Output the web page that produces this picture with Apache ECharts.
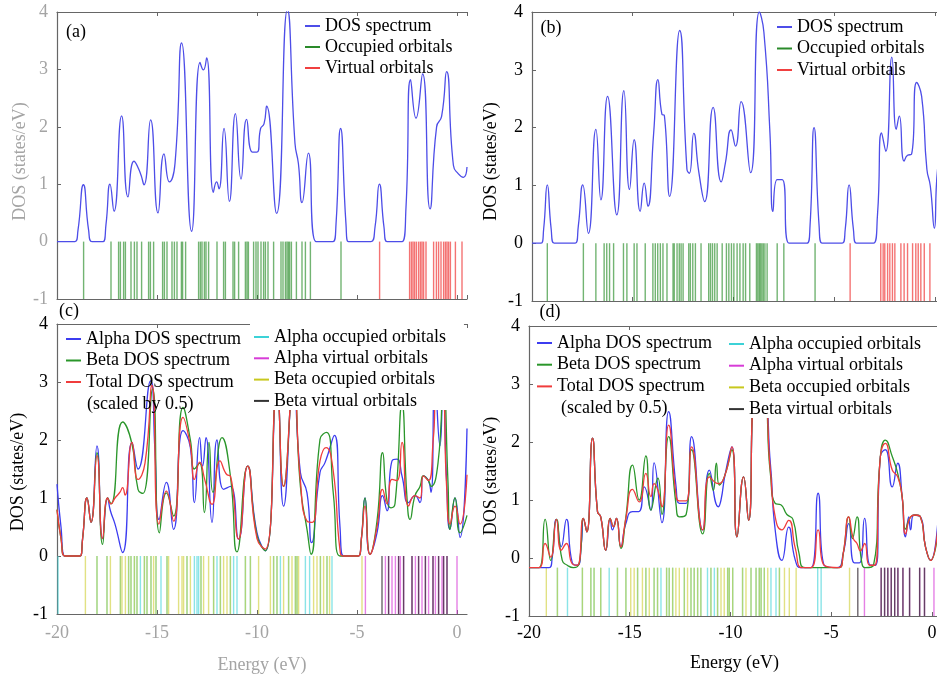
<!DOCTYPE html>
<html>
<head>
<meta charset="utf-8">
<script src="https://cdn.jsdelivr.net/npm/echarts@6/dist/echarts.min.js"></script>
<style>
html, body { margin: 0; padding: 0; background: #fff; }
#chart { width: 937px; height: 680px; }
</style>
</head>
<body>
<div id="chart"></div>
<script>
// energy ticks shared by all panels
var xTicks = [-20, -15, -10, -5, 0];
var yTicks = [-1, 0, 1, 2, 3, 4];

// ---- panel (a): DOS [E, DOS] and orbital energies
var aDos = [[-20,0],[-19.1,0],[-18.95,0.2],[-18.68,0.99],[-18.42,0.2],[-18.25,0],[-17.7,0],[-17.55,0.3],[-17.35,1.0],
  [-17.15,0.53],[-16.77,2.19],[-16.45,0.78],[-16.15,1.4],[-15.85,1.21],[-15.65,0.99],[-15.32,2.12],[-14.95,0.5],
  [-14.65,1.53],[-14.38,1.04],[-14.1,1.36],[-13.77,3.46],[-13.27,0.18],[-12.85,3.12],[-12.68,2.99],[-12.52,3.2],
  [-12.18,0.86],[-12.02,1.04],[-11.9,0.92],[-11.65,1.97],[-11.38,0.7],[-11.08,2.23],[-10.8,1.09],[-10.52,2.13],
  [-10.23,1.56],[-10.0,1.56],[-9.82,1.97],[-9.65,2.05],[-9.52,2.36],[-9.02,0.49],[-8.48,4.04],[-8.1,1.71],
  [-7.93,1.36],[-7.75,0.68],[-7.43,1.54],[-7.05,0],[-6.2,0],[-6.05,0.3],[-5.82,1.97],[-5.55,0.3],[-5.43,0],
  [-4.3,0],[-4.1,0.25],[-3.88,1.0],[-3.65,0.25],[-3.5,0],[-2.75,0],[-2.55,0.6],[-2.32,2.82],[-2.05,2.15],
  [-1.72,2.92],[-1.35,0.57],[-1.02,2.0],[-0.77,2.18],[-0.52,2.96],[-0.18,1.33],[0.07,1.18],[0.32,1.12],[0.5,1.3]];
var aOcc = [-18.67,-17.30,-16.92,-16.83,-16.67,-16.58,-16.30,-16.13,-16.00,-15.77,-15.42,-15.33,-15.17,-14.72,
  -14.63,-14.50,-14.25,-14.13,-14.00,-13.78,-13.72,-13.57,-12.92,-12.83,-12.75,-12.63,-12.55,-12.42,-12.00,-11.67,
  -11.58,-11.20,-11.12,-10.92,-10.58,-10.50,-10.43,-10.17,-10.05,-9.95,-9.80,-9.67,-9.58,-9.45,-9.17,-8.80,-8.70,
  -8.58,-8.50,-8.43,-8.37,-8.28,-8.03,-7.75,-7.58,-7.33,-5.80];
var aVirt = [-3.87,-2.37,-2.28,-2.20,-2.12,-2.03,-1.92,-1.83,-1.75,-1.67,-1.55,-1.17,-1.03,-0.92,-0.80,-0.67,
  -0.58,-0.50,-0.42,-0.33,-0.08,0.25];

// ---- panel (b)
var bDos = [[-20,0],[-19.55,0],[-19.42,0.25],[-19.24,1.01],[-19.05,0.25],[-18.9,0],[-17.85,0],[-17.7,0.3],
  [-17.48,1.01],[-17.2,0.17],[-16.83,1.97],[-16.58,0.75],[-16.25,2.54],[-15.79,0.49],[-15.44,2.64],[-15.16,0.93],
  [-14.93,1.79],[-14.63,0.55],[-14.43,1.04],[-14.25,0.64],[-13.96,1.91],[-13.75,2.83],[-13.55,2.23],[-13.43,2.21],
  [-13.17,0.81],[-12.67,3.68],[-12.31,1.28],[-12.19,1.21],[-11.97,1.9],[-11.72,1.23],[-11.43,0.72],[-11.01,2.35],
  [-10.61,1.06],[-10.4,1.39],[-10.12,1.96],[-9.9,1.68],[-9.62,2.45],[-9.15,1.22],[-8.72,4.0],[-8.49,3.65],
  [-8.19,1.91],[-8.04,0.55],[-7.83,1.1],[-7.58,1.1],[-7.25,0],[-6.35,0],[-6.2,0.3],[-6.0,2.0],[-5.75,0.3],
  [-5.6,0],[-4.6,0],[-4.45,0.25],[-4.26,1.01],[-4.05,0.25],[-3.9,0],[-3.05,0],[-2.85,0.5],[-2.65,1.91],
  [-2.44,1.59],[-2.14,3.22],[-1.92,1.97],[-1.77,2.2],[-1.53,1.42],[-1.36,1.52],[-1.16,1.54],[-0.91,2.78],
  [-0.66,2.54],[-0.4,1.28],[-0.23,0.99],[-0.03,0.26],[0.13,1.28],[0.4,1.5]];
var bOcc = [-19.24,-17.45,-16.83,-16.42,-16.29,-16.15,-15.95,-15.46,-15.29,-14.93,-14.79,-14.38,-14.00,-13.88,
  -13.76,-13.63,-13.50,-13.30,-13.00,-12.94,-12.80,-12.69,-12.60,-12.50,-12.22,-12.14,-12.02,-11.89,-11.61,-11.23,
  -11.14,-11.04,-10.93,-10.81,-10.56,-10.35,-10.23,-10.10,-9.98,-9.82,-9.68,-9.52,-9.40,-9.19,-8.86,-8.79,-8.72,
  -8.66,-8.59,-8.52,-8.44,-8.33,-7.83,-7.50,-5.95];
var bVirt = [-4.21,-2.69,-2.57,-2.49,-2.35,-2.24,-2.11,-1.99,-1.69,-1.53,-1.36,-1.11,-0.95,-0.83,-0.70,-0.53,-0.25];

// ---- panel (c): alpha, beta and total (x0.5) DOS
var cAlpha = [[-20,1.24],[-19.8,0.5],[-19.6,0],[-18.85,0],[-18.72,0.3],[-18.5,1.0],[-18.3,0.58],[-18.0,1.9],
  [-17.72,0.3],[-17.47,1.0],[-17.33,0.78],[-17.1,0.55],[-16.72,0.06],[-16.25,1.96],[-15.95,1.5],[-15.32,3.02],
  [-15.1,1.8],[-14.9,0.63],[-14.53,1.27],[-14.17,0.46],[-13.7,2.16],[-13.33,1.87],[-13.13,0.92],[-12.87,2.04],
  [-12.72,1.55],[-12.55,2.04],[-12.25,0.58],[-12.0,2.0],[-11.67,1.15],[-11.33,1.2],[-10.92,0.29],[-10.47,1.55],
  [-10.0,0.4],[-9.58,0.09],[-9.0,2.9],[-8.67,0.86],[-8.17,3.0],[-7.83,1.44],[-7.5,1.09],[-7.27,0.23],[-6.85,1.44],
  [-6.6,1.61],[-6.13,2.08],[-5.85,0.5],[-5.68,0],[-4.93,0],[-4.78,0.3],[-4.6,1.0],[-4.35,0.03],[-4.0,0.4],
  [-3.72,1.04],[-3.5,0.78],[-3.25,1.64],[-3.0,1.67],[-2.75,1.38],[-2.42,0.92],[-2.1,1.04],[-1.85,0.92],
  [-1.68,1.38],[-1.43,1.3],[-1.3,1.1],[-1.1,3.0],[-0.85,1.9],[-0.7,3.0],[-0.52,1.3],[-0.35,0.46],[-0.1,1.0],
  [0.15,0.32],[0.5,2.2]];
var cBeta = [[-20,0.8],[-19.8,0.3],[-19.6,0],[-18.85,0],[-18.72,0.3],[-18.5,1.0],[-18.3,0.58],[-18.0,1.78],
  [-17.72,0.2],[-17.47,1.0],[-17.3,0.9],[-16.72,2.31],[-16.25,1.93],[-15.95,1.15],[-15.7,1.08],[-15.22,2.88],
  [-14.88,0.4],[-14.53,1.09],[-14.17,0.69],[-13.7,2.56],[-13.33,2.0],[-13.13,1.5],[-12.87,1.6],[-12.63,0.75],
  [-12.4,1.96],[-12.2,1.1],[-11.75,2.04],[-11.33,1.38],[-11.0,0.07],[-10.47,1.55],[-10.0,0.35],[-9.58,0.09],
  [-9.0,2.9],[-8.67,1.2],[-8.17,3.0],[-7.83,1.2],[-7.5,0.46],[-7.3,0.03],[-6.85,2.01],[-6.52,2.13],[-6.18,1.06],
  [-5.85,0],[-4.93,0],[-4.78,0.3],[-4.6,1.0],[-4.35,0.03],[-4.0,0.6],[-3.72,1.78],[-3.5,0.95],[-3.3,0.83],
  [-3.1,0.9],[-2.75,2.6],[-2.5,1.0],[-2.35,0.63],[-2.1,1.04],[-1.85,1.2],[-1.68,1.38],[-1.43,1.3],[-1.3,1.2],
  [-0.95,1.6],[-0.68,3.0],[-0.45,1.27],[-0.35,0.46],[-0.1,1.0],[0.15,0.4],[0.5,0.7]];
var cTotal = [[-20,0.8],[-19.8,0.3],[-19.6,0],[-18.85,0],[-18.72,0.3],[-18.5,1.0],[-18.3,0.58],[-18.0,1.73],
  [-17.72,0.3],[-17.47,1.0],[-17.3,0.9],[-17.1,1.0],[-16.85,1.1],[-16.72,1.18],[-16.6,1.05],[-16.25,1.96],
  [-15.95,1.32],[-15.6,1.6],[-15.25,2.94],[-14.9,0.55],[-14.53,1.12],[-14.17,0.6],[-13.7,2.39],[-13.33,1.9],
  [-13.13,1.32],[-12.87,1.62],[-12.6,1.3],[-12.25,0.89],[-11.85,1.64],[-11.5,1.4],[-11.33,1.38],[-10.92,0.29],
  [-10.47,1.55],[-10.0,0.3],[-9.58,0.12],[-9.0,2.9],[-8.67,1.2],[-8.17,3.0],[-7.83,1.3],[-7.5,0.6],[-7.25,0.58],
  [-6.85,1.64],[-6.55,1.87],[-6.2,1.5],[-5.85,0.1],[-5.68,0],[-4.93,0],[-4.78,0.3],[-4.6,0.86],[-4.35,0.03],
  [-4.0,0.5],[-3.72,1.15],[-3.5,0.9],[-3.25,1.32],[-3.0,1.3],[-2.75,1.96],[-2.42,0.86],[-2.1,1.04],[-1.85,1.0],
  [-1.68,1.38],[-1.43,1.3],[-1.18,2.04],[-1.0,2.8],[-0.75,2.8],[-0.52,1.2],[-0.35,0.55],[-0.1,0.86],[0.15,0.55],
  [0.5,1.4]];
var cAlphaOcc = [-19.95,-18.0,-17.5,-16.83,-16.42,-16.3,-16.13,-16.0,-15.83,-15.63,-15.5,-15.3,-15.05,-14.8,-14.5,
  -13.5,-13.13,-13.0,-12.92,-12.8,-12.17,-12.0,-11.83,-11.33,-11.17,-11.0,-10.58,-10.33,-9.17,-9.0,-8.83,-8.42,
  -8.08,-8.0,-7.58,-7.37,-6.83,-6.5,-6.25];
var cBetaOcc = [-18.58,-18.0,-17.5,-17.33,-16.83,-16.75,-16.58,-16.42,-16.3,-16.13,-16.0,-15.63,-15.5,-15.3,-15.17,
  -15.05,-14.5,-14.42,-13.92,-13.75,-13.67,-13.5,-13.33,-12.8,-12.67,-12.42,-12.17,-11.83,-11.67,-11.5,-11.33,
  -10.58,-10.33,-9.92,-9.33,-9.17,-9.0,-8.67,-8.42,-8.25,-8.08,-8.0,-7.92,-7.17,-7.0,-6.83,-6.67,-6.5,-6.37,-4.75];
var cAlphaVirt = [-4.58,-3.58,-3.42,-3.25,-3.08,-2.92,-2.83,-2.67,-2.25,-2.08,-1.92,-1.75,-1.58,-1.42,-1.2,-1.08,
  -0.92,-0.75,-0.67,-0.5,0.0];
var cBetaVirt = [-3.75,-3.42,-2.92,-2.67,-2.25,-1.92,-1.58,-1.2,-0.92,-0.67,-0.5];

// ---- panel (d): values on the plot's own DOS scale (-1 .. 5)
var dAlpha = [[-20,0],[-19.0,0],[-18.85,0.2],[-18.64,1.0],[-18.4,0.43],[-18.14,1.0],[-17.85,0.1],[-17.6,0.05],
  [-17.4,0.5],[-17.3,1.02],[-17.13,0.74],[-16.85,2.68],[-16.6,1.16],[-16.44,1.05],[-16.19,0.36],[-15.97,1.02],
  [-15.86,0.78],[-15.66,1.02],[-15.44,0.43],[-15.2,0.9],[-14.86,1.16],[-14.55,1.16],[-14.28,1.67],[-13.95,1.19],
  [-13.79,2.17],[-13.4,0.93],[-13.07,3.23],[-12.7,1.67],[-12.54,1.33],[-12.2,1.33],[-11.93,2.71],[-11.38,0.78],
  [-11.05,2.02],[-10.6,1.26],[-10.47,1.4],[-10.27,1.92],[-9.93,2.5],[-9.68,0.64],[-9.35,1.88],[-9.1,0.98],
  [-8.75,3.6],[-8.4,3.6],[-8.02,2.16],[-7.78,0.78],[-7.45,0.15],[-7.11,0.84],[-6.78,0.15],[-6.5,0],[-6.0,0],
  [-5.65,1.54],[-5.35,0.05],[-4.7,0],[-4.4,0.3],[-4.13,0.91],[-3.85,0.1],[-3.6,0.1],[-3.34,1.02],[-3.05,0.05],
  [-2.8,0.05],[-2.56,2.3],[-2.31,2.44],[-1.97,1.67],[-1.7,2.16],[-1.48,1.47],[-1.31,0.64],[-1.15,1.05],
  [-1.06,0.78],[-0.9,1.09],[-0.57,1.05],[-0.32,0.43],[-0.07,0.15],[0.4,1.7]];
var dBeta = [[-20,0],[-19.5,0],[-19.2,1.0],[-18.92,0.15],[-18.64,1.0],[-18.35,0.15],[-18.1,0.05],[-17.8,0],
  [-17.5,0.1],[-17.3,1.02],[-17.13,0.74],[-16.85,2.68],[-16.6,1.16],[-16.44,1.05],[-16.19,0.36],[-15.97,1.02],
  [-15.8,0.85],[-15.66,1.02],[-15.44,0.4],[-15.2,1.02],[-14.86,2.12],[-14.53,1.4],[-14.2,2.31],[-13.95,1.19],
  [-13.6,1.85],[-13.4,1.1],[-13.07,2.71],[-12.7,1.3],[-12.54,1.05],[-12.2,1.1],[-11.93,2.44],[-11.38,0.7],
  [-11.05,1.95],[-10.85,1.6],[-10.7,2.16],[-10.55,1.71],[-10.27,1.92],[-9.93,2.44],[-9.68,0.64],[-9.35,1.88],
  [-9.1,0.98],[-8.75,3.6],[-8.4,3.6],[-8.02,1.95],[-7.78,1.33],[-7.5,1.3],[-7.2,1.1],[-6.9,1.0],[-6.6,0.3],
  [-6.3,0],[-4.6,0],[-4.4,0.3],[-4.13,1.05],[-3.95,0.6],[-3.72,1.05],[-3.5,0.15],[-3.3,0],[-2.9,0.05],
  [-2.56,2.3],[-2.31,2.64],[-1.97,2.3],[-1.7,1.95],[-1.48,1.47],[-1.31,0.8],[-1.06,1.05],[-0.82,1.09],
  [-0.57,1.05],[-0.32,0.43],[-0.07,0.15],[0.4,1.2]];
var dTotal = [[-20,0],[-19.5,0],[-19.2,0.5],[-18.92,0.22],[-18.64,1.0],[-18.4,0.36],[-18.14,0.5],[-17.85,0.08],
  [-17.6,0.05],[-17.3,1.02],[-17.13,0.74],[-16.85,2.68],[-16.6,1.16],[-16.44,1.05],[-16.19,0.36],[-15.97,1.02],
  [-15.8,0.85],[-15.66,1.02],[-15.44,0.43],[-15.2,1.0],[-14.86,1.62],[-14.53,1.36],[-14.2,1.95],[-13.95,1.47],
  [-13.79,1.74],[-13.6,1.6],[-13.4,1.26],[-13.07,2.95],[-12.7,1.5],[-12.54,1.38],[-12.2,1.38],[-11.93,2.5],
  [-11.38,0.78],[-11.05,1.88],[-10.6,1.74],[-10.27,1.92],[-9.93,2.5],[-9.68,0.64],[-9.35,1.88],[-9.1,0.98],
  [-8.75,3.6],[-8.4,3.6],[-8.02,2.02],[-7.78,1.05],[-7.45,0.78],[-7.11,0.98],[-6.78,0.4],[-6.45,0],[-6.0,0],
  [-5.65,0.78],[-5.35,0.05],[-4.6,0],[-4.4,0.3],[-4.13,1.05],[-3.9,0.6],[-3.72,0.5],[-3.55,0.35],[-3.34,0.5],
  [-3.1,0.05],[-2.85,0.05],[-2.56,2.3],[-2.31,2.57],[-1.97,2.02],[-1.7,1.88],[-1.48,1.47],[-1.31,0.7],
  [-1.06,1.05],[-0.82,1.09],[-0.57,1.05],[-0.32,0.43],[-0.07,0.15],[0.4,1.4]];
var dAlphaOcc = [-18.59,-18.09,-17.35,-16.93,-16.77,-16.44,-16.02,-15.61,-15.19,-14.61,-14.20,-13.79,-13.62,-13.45,
  -13.17,-13.04,-12.87,-12.29,-11.96,-11.80,-11.63,-11.47,-11.14,-10.97,-10.80,-10.64,-10.14,-10.06,-9.89,-9.40,
  -8.98,-8.73,-8.57,-8.48,-8.32,-7.99,-7.74,-7.57,-5.67,-5.50];
var dBetaOcc = [-19.14,-18.59,-17.35,-16.93,-16.77,-16.44,-15.61,-15.19,-14.95,-14.78,-14.61,-14.37,-14.20,-14.03,
  -13.79,-13.62,-13.17,-13.04,-12.87,-12.71,-12.54,-12.29,-12.13,-11.96,-11.80,-11.63,-11.47,-10.97,-10.64,-10.47,
  -10.31,-10.14,-10.06,-9.89,-9.40,-9.23,-8.98,-8.73,-8.57,-8.48,-8.32,-8.15,-7.57,-7.32,-7.08,-6.74,-4.09];
var dAlphaVirt = [-3.35,-2.52,-2.35,-2.19,-2.02,-1.85,-1.69,-1.44,-1.11,-0.61,-0.37,0.1];
var dBetaVirt = [-3.68,-2.52,-2.35,-2.19,-2.02,-1.85,-1.69,-1.44,-1.11,-0.61,-0.37];

var FONT = 'Liberation Serif';
var GREY = '#a4a4a4';
var AXIS = '#666';

var C = {
  dos: '#4d4de8', occ: 'rgba(20,130,20,0.6)', virt: 'rgba(238,40,40,0.65)',
  alpha: '#3c3cf0', beta: '#2a962a', total: '#f03c3c',
  aOcc: 'rgba(60,210,215,0.6)', aVirt: 'rgba(215,60,215,0.65)',
  bOcc: 'rgba(200,200,30,0.55)', bVirt: 'rgba(45,35,45,0.7)'
};

function fmtX(v) { return (v % 5 === 0) ? String(v) : ''; }

function xAx(grid, max, pos, labelColor, name) {
  return {
    type: 'value', gridIndex: grid, position: pos, min: -20, max: max, interval: 5,
    axisLine: { show: true, onZero: false, lineStyle: { color: AXIS, width: 1.2 } },
    axisTick: { show: true, inside: true, length: 4, lineStyle: { color: AXIS } },
    splitLine: { show: false },
    axisLabel: { show: !!labelColor, color: labelColor, fontFamily: FONT, fontSize: 18,
      margin: 9, formatter: fmtX, showMaxLabel: false },
    name: name || '', nameLocation: 'middle', nameGap: 40,
    nameTextStyle: { color: labelColor, fontFamily: FONT, fontSize: 18 }
  };
}

// shift = how far the rotated axis name sits below the axis middle
function yAx(grid, color, gap, shift) {
  return {
    type: 'value', gridIndex: grid, min: -1, max: 4, interval: 1,
    axisLine: { show: true, onZero: false, lineStyle: { color: AXIS, width: 1.2 } },
    axisTick: { show: true, inside: true, length: 4, lineStyle: { color: AXIS } },
    splitLine: { show: false },
    axisLabel: { color: color, fontFamily: FONT, fontSize: 18, margin: 9 },
    name: 'DOS (states/eV)', nameLocation: 'middle', nameGap: gap, nameRotate: 90,
    nameTextStyle: { color: color, fontFamily: FONT, fontSize: 18, padding: [0, shift * 2, 0, 0] }
  };
}

function curve(name, data, color, xi, yi) {
  return {
    name: name, type: 'line', xAxisIndex: xi, yAxisIndex: yi, data: data,
    smooth: 0.55, symbol: 'none', showSymbol: false, silent: true, z: 3,
    lineStyle: { color: color, width: 1.3 }, itemStyle: { color: color }
  };
}

function sticks(name, energies, color, xi, yi) {
  return {
    name: name, type: 'custom', xAxisIndex: xi, yAxisIndex: yi, silent: true, z: 1,
    data: energies.map(function (e) { return [e, 0]; }),
    encode: { x: 0, y: 1 },
    itemStyle: { color: color },
    renderItem: function (params, api) {
      var p0 = api.coord([api.value(0), 0]);
      var p1 = api.coord([api.value(0), -1]);
      return { type: 'line', shape: { x1: p0[0], y1: p0[1], x2: p1[0], y2: p1[1] },
        style: { stroke: color, lineWidth: 1.4 } };
    }
  };
}

function legend(names, colors, left, top, gap, extra) {
  var o = {
    orient: 'vertical', left: left, top: top, itemGap: gap, padding: 0,
    icon: 'rect', itemWidth: 15, itemHeight: 2, selectedMode: false,
    textStyle: { color: '#000', fontFamily: FONT, fontSize: 18, lineHeight: 18 },
    data: names.map(function (n, i) { return { name: n, itemStyle: { color: colors[i] } }; })
  };
  for (var k in extra) o[k] = extra[k];
  return o;
}

function label(text, x, y, align) {
  return { type: 'text', x: x, y: y, z: 10,
    style: { text: text, fill: '#000', font: '18px "' + FONT + '"', align: align || 'center', verticalAlign: 'middle' } };
}

var chart = echarts.init(document.getElementById('chart'));

var xAxes = [
  xAx(0, 0.5, 'bottom'), xAx(0, 0.5, 'top'),
  xAx(1, 0.4, 'bottom'), xAx(1, 0.4, 'top'),
  xAx(2, 0.5, 'bottom', GREY, 'Energy (eV)'), xAx(2, 0.5, 'top'),
  xAx(3, 0.4, 'bottom', '#000', 'Energy (eV)'), xAx(3, 0.4, 'top')
];
xAxes[4].nameGap = 42; xAxes[4].axisLabel.margin = 10;
xAxes[6].nameGap = 38; xAxes[6].axisLabel.margin = 8;

var yAxes = [
  yAx(0, GREY, 28, 6),
  yAx(1, '#000', 32, 5),
  yAx(2, '#000', 30, 3),
  yAx(3, '#000', 29, 5),
  { type: 'value', gridIndex: 3, min: -1, max: 5, show: false }
];

var alphaNames = ['Alpha DOS spectrum', 'Beta DOS spectrum', 'Total DOS spectrum'];
var orbNames = ['Alpha occupied orbitals', 'Alpha virtual orbitals', 'Beta occupied orbitals', 'Beta virtual orbitals'];
var orbColors = ['#3cd2d7', '#d73cd7', '#c8c81e', '#333'];

chart.setOption({
  animation: false,
  backgroundColor: '#fff',
  grid: [
    { left: 57, top: 12, width: 410, height: 287, outerBoundsMode: 'none' },
    { left: 532, top: 12, width: 411, height: 289, outerBoundsMode: 'none' },
    { left: 57, top: 324, width: 410, height: 290, outerBoundsMode: 'none' },
    { left: 529, top: 326, width: 411, height: 290, outerBoundsMode: 'none' }
  ],
  xAxis: xAxes,
  yAxis: yAxes,
  legend: [
    legend(['DOS spectrum', 'Occupied orbitals', 'Virtual orbitals'], [C.dos, '#2a8a2a', '#f04040'], 305, 17, 3),
    legend(['DOS spectrum', 'Occupied orbitals', 'Virtual orbitals'], [C.dos, '#2a8a2a', '#f04040'], 777, 18, 3.5),
    legend(alphaNames, [C.alpha, C.beta, C.total], 66, 330, 3.5),
    legend(orbNames, orbColors, 250, 324, 3.3, { padding: [4, 18, 0, 4], backgroundColor: '#fff' }),
    legend(alphaNames, [C.alpha, C.beta, C.total], 537, 334, 3.7),
    legend(orbNames, orbColors, 725, 327, 3.7, { padding: [8, 20, 0, 4], backgroundColor: '#fff' })
  ],
  graphic: [
    label('(a)', 76, 32), label('(b)', 551, 28), label('(c)', 69, 311), label('(d)', 550, 312),
    label('(scaled by 0.5)', 87, 404, 'left'), label('(scaled by 0.5)', 561, 408, 'left')
  ],
  series: [
    sticks('Occupied orbitals', aOcc, C.occ, 0, 0),
    sticks('Virtual orbitals', aVirt, C.virt, 0, 0),
    curve('DOS spectrum', aDos, C.dos, 0, 0),

    sticks('Occupied orbitals', bOcc, C.occ, 2, 1),
    sticks('Virtual orbitals', bVirt, C.virt, 2, 1),
    curve('DOS spectrum', bDos, C.dos, 2, 1),

    sticks('Alpha occupied orbitals', cAlphaOcc, C.aOcc, 4, 2),
    sticks('Beta occupied orbitals', cBetaOcc, C.bOcc, 4, 2),
    sticks('Alpha virtual orbitals', cAlphaVirt, C.aVirt, 4, 2),
    sticks('Beta virtual orbitals', cBetaVirt, C.bVirt, 4, 2),
    curve('Alpha DOS spectrum', cAlpha, C.alpha, 4, 2),
    curve('Beta DOS spectrum', cBeta, C.beta, 4, 2),
    curve('Total DOS spectrum', cTotal, C.total, 4, 2),

    sticks('Alpha occupied orbitals', dAlphaOcc, C.aOcc, 6, 4),
    sticks('Beta occupied orbitals', dBetaOcc, C.bOcc, 6, 4),
    sticks('Alpha virtual orbitals', dAlphaVirt, C.aVirt, 6, 4),
    sticks('Beta virtual orbitals', dBetaVirt, C.bVirt, 6, 4),
    curve('Alpha DOS spectrum', dAlpha, C.alpha, 6, 4),
    curve('Beta DOS spectrum', dBeta, C.beta, 6, 4),
    curve('Total DOS spectrum', dTotal, C.total, 6, 4)
  ]
});
</script>
</body>
</html>
